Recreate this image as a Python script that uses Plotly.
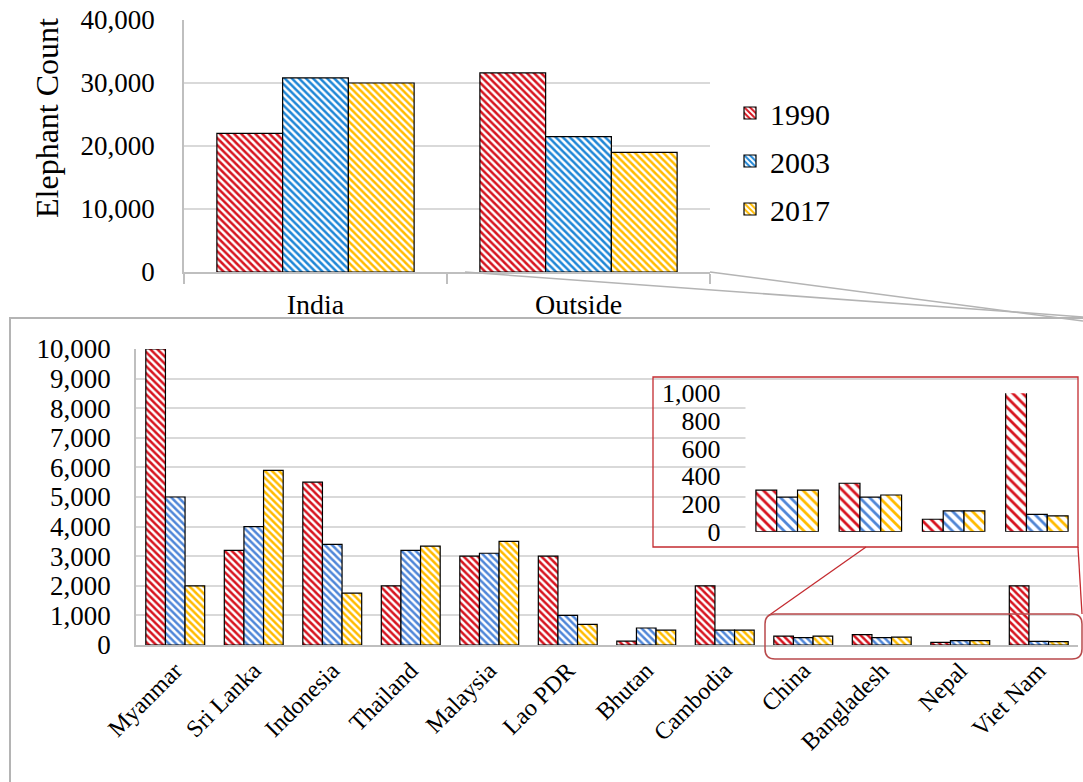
import plotly.graph_objects as go

W, H = 1083, 782

# ---- data -------------------------------------------------------------
years = ["1990", "2003", "2017"]

regions = ["India", "Outside"]
region_1990 = [22000, 31600]
region_2003 = [30800, 21500]
region_2017 = [30000, 19000]

countries = ["Myanmar", "Sri Lanka", "Indonesia", "Thailand", "Malaysia", "Lao PDR",
             "Bhutan", "Cambodia", "China", "Bangladesh", "Nepal", "Viet Nam"]
country_1990 = [10000, 3200, 5500, 2000, 3000, 3000, 130, 2000, 300, 350, 90, 2000]
country_2003 = [5000, 4000, 3400, 3200, 3100, 1000, 575, 500, 250, 250, 150, 125]
country_2017 = [2000, 5900, 1750, 3340, 3500, 700, 500, 500, 300, 265, 150, 115]

small_countries = ["China", "Bangladesh", "Nepal", "Viet Nam"]
small_1990 = [300, 350, 90, 2000]
small_2003 = [250, 250, 150, 125]
small_2017 = [300, 265, 150, 115]

# ---- styling ----------------------------------------------------------
FONT = "Liberation Serif"
RED = "#D7141F"
BLUE_TOP = "#1F86D6"
BLUE = "#4F86D8"
YELLOW = "#FFBB00"
GRID = "#D9D9D9"
AXIS = "#BFBFBF"


def px(x):
    return x / W


def py(y):
    return 1 - y / H


def bar(x, y, name, color, xa, ya, legend, size, solidity):
    return go.Bar(
        x=x, y=y, name=name, xaxis=xa, yaxis=ya,
        showlegend=legend, legendgroup=name,
        marker=dict(
            color="white",
            line=dict(color="black", width=1.2),
            pattern=dict(shape="\\", fgcolor=color, bgcolor="white",
                         size=size, solidity=solidity),
        ),
        hoverinfo="x+y",
    )


fig = go.Figure()

# top chart: India vs outside India
for vals, yr, col in zip([region_1990, region_2003, region_2017], years,
                         [RED, BLUE_TOP, YELLOW]):
    fig.add_trace(bar(regions, vals, yr, col, "x", "y", True, 5, 0.5))

# bottom chart: range countries outside India
for vals, yr, col in zip([country_1990, country_2003, country_2017], years,
                         [RED, BLUE, YELLOW]):
    fig.add_trace(bar(countries, vals, yr, col, "x2", "y2", False, 5, 0.5))

# inset: enlarged view of the four smallest populations
for vals, yr, col in zip([small_1990, small_2003, small_2017], years,
                         [RED, BLUE, YELLOW]):
    fig.add_trace(bar(small_countries, vals, yr, col, "x3", "y3", False, 7, 0.4))

tick_font = dict(family=FONT, size=27, color="black")

fig.update_layout(
    template="none",
    width=W, height=H,
    margin=dict(l=0, r=0, t=0, b=0, pad=0),
    paper_bgcolor="white", plot_bgcolor="white",
    barmode="group", bargap=0.25, bargroupgap=0,
    font=dict(family=FONT, color="black"),
    showlegend=True,
    legend=dict(
        x=px(730), y=py(161), xanchor="left", yanchor="middle",
        font=dict(family=FONT, size=30, color="black"),
        tracegroupgap=6, bgcolor="rgba(0,0,0,0)", borderwidth=0,
    ),
    xaxis=dict(
        domain=[px(184), px(710)], anchor="y", type="category",
        categoryorder="array", categoryarray=regions, automargin=False,
        showline=True, linecolor=AXIS, linewidth=2,
        ticks="outside", tickson="boundaries", ticklen=10,
        tickcolor=AXIS, tickwidth=2, ticklabelstandoff=6,
        tickfont=dict(family=FONT, size=28, color="black"),
        showgrid=False, zeroline=False,
    ),
    yaxis=dict(
        domain=[py(272), py(20)], anchor="x", range=[0, 40000], automargin=False,
        dtick=10000, tickformat=",", tickfont=tick_font, ticks="",
        showgrid=True, gridcolor=GRID, gridwidth=1.5,
        showline=True, linecolor=AXIS, linewidth=1.5, zeroline=False,
        ticklabelstandoff=22,
    ),
    xaxis2=dict(
        domain=[px(136), px(1078)], anchor="y2", type="category",
        categoryorder="array", categoryarray=countries, automargin=False,
        showline=True, linecolor=AXIS, linewidth=2, ticks="",
        tickangle=-45, tickfont=dict(family=FONT, size=24, color="black"),
        showgrid=False, zeroline=False,
    ),
    yaxis2=dict(
        domain=[py(645), py(349)], anchor="x2", range=[0, 10000], automargin=False,
        dtick=1000, tickformat=",", ticks="",
        tickfont=dict(family=FONT, size=27, color="black"),
        showgrid=True, gridcolor=GRID, gridwidth=1.5,
        showline=True, linecolor=AXIS, linewidth=1.5, zeroline=False,
        ticklabelstandoff=18,
    ),
    xaxis3=dict(
        domain=[px(745.5), px(1078.5)], anchor="y3", type="category",
        categoryorder="array", categoryarray=small_countries, automargin=False,
        showline=False, showticklabels=False, ticks="",
        showgrid=False, zeroline=False,
    ),
    yaxis3=dict(
        domain=[py(531.7), py(393.3)], anchor="x3", range=[0, 1000], automargin=False,
        dtick=200, tickformat=",", ticks="",
        tickfont=dict(family=FONT, size=26, color="black"),
        showgrid=False, showline=False, zeroline=False,
        ticklabelstandoff=24,
    ),
)

# y-axis title of the top chart
fig.add_annotation(
    text="Elephant Count", textangle=-90, xref="paper", yref="paper",
    x=px(47), y=py(118), xanchor="center", yanchor="middle", showarrow=False,
    font=dict(family=FONT, size=32, color="black"),
)

shapes = [
    # frame around the country breakdown
    dict(type="rect", xref="paper", yref="paper",
         x0=px(10), x1=1.2, y0=-0.2, y1=py(318),
         line=dict(color="#B4B4B4", width=2), fillcolor="rgba(0,0,0,0)",
         layer="below"),
    # callout lines from the "Outside" bars down to the breakdown panel
    dict(type="line", xref="paper", yref="paper",
         x0=px(465), y0=py(272), x1=1.0, y1=py(317),
         line=dict(color="#B4B4B4", width=1.5)),
    dict(type="line", xref="paper", yref="paper",
         x0=px(710), y0=py(272), x1=1.0, y1=py(321),
         line=dict(color="#B4B4B4", width=1.5)),
    # inset frame
    dict(type="rect", xref="paper", yref="paper",
         x0=px(653), x1=px(1078), y0=py(547), y1=py(377),
         line=dict(color="#C42B30", width=1.3), fillcolor="rgba(0,0,0,0)"),
    # connectors from the highlighted region to the inset
    dict(type="line", xref="paper", yref="paper",
         x0=px(866), y0=py(547), x1=px(768), y1=py(616),
         line=dict(color="#C42B30", width=1.3)),
    dict(type="line", xref="paper", yref="paper",
         x0=px(1078), y0=py(547), x1=px(1082), y1=py(614),
         line=dict(color="#C42B30", width=1.3)),
]

# rounded highlight around the small-population countries
x0, x1, y0, y1 = px(765), px(1082), py(659), py(614)
rx, ry = px(10), 10 / H
path = (f"M {x0 + rx},{y1} L {x1 - rx},{y1} Q {x1},{y1} {x1},{y1 - ry} "
        f"L {x1},{y0 + ry} Q {x1},{y0} {x1 - rx},{y0} "
        f"L {x0 + rx},{y0} Q {x0},{y0} {x0},{y0 + ry} "
        f"L {x0},{y1 - ry} Q {x0},{y1} {x0 + rx},{y1} Z")
shapes.append(dict(type="path", xref="paper", yref="paper", path=path,
                   line=dict(color="#B94A4C", width=1.5)))

fig.update_layout(shapes=shapes)

fig.write_html("out.html")
